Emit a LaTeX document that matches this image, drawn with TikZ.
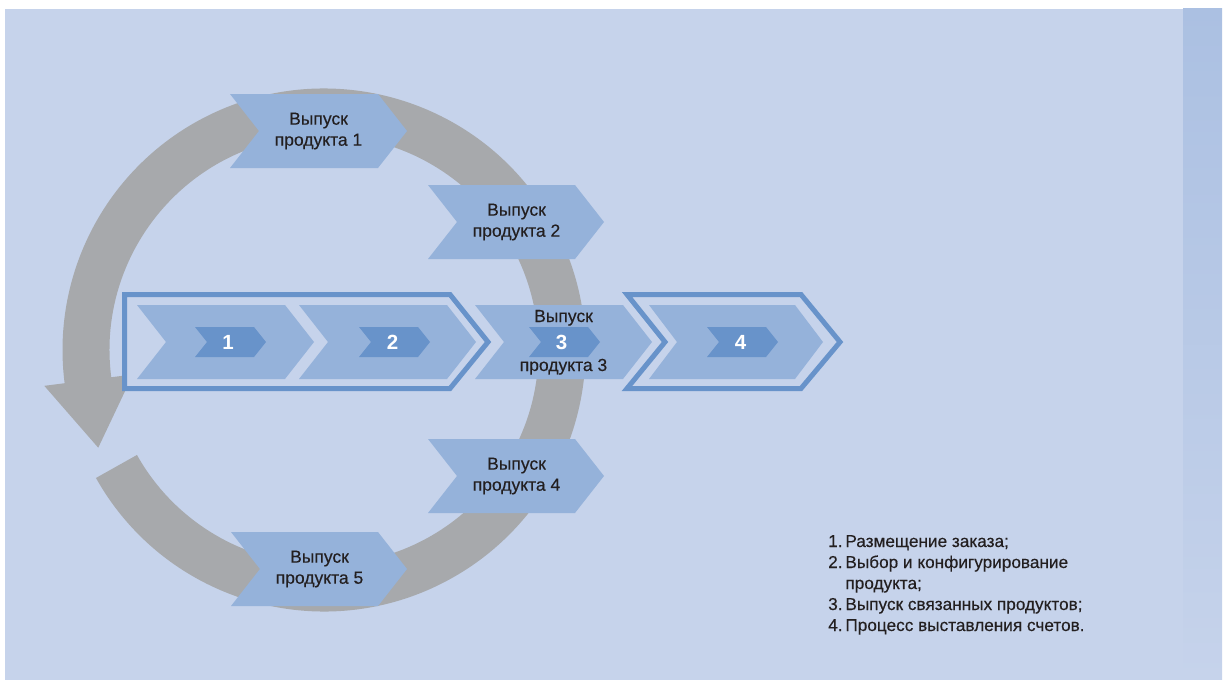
\documentclass[tikz,border=0pt]{standalone}
\usepackage{fontspec}
\setmainfont{Liberation Sans}
\newfontfamily\medsans[FakeBold=0.35]{Liberation Sans}
\usetikzlibrary{positioning}
\definecolor{bgblue}{HTML}{C6D3EB}
\definecolor{stripblue}{HTML}{ABC0E2}
\definecolor{prodblue}{HTML}{95B2DA}
\definecolor{tagblue}{HTML}{6893CA}
\definecolor{ringgray}{HTML}{A7A9AC}
\definecolor{textdark}{HTML}{231F20}
% chevron: left x, top y, body width, height, point depth, style
\newcommand{\chev}[6]{\fill[#6] (#1,#2) -- ++(#3,0) -- ++(#5,#4/2) -- ++(-#5,#4/2) -- ++(-#3,0) -- ++(#5,-#4/2) -- cycle;}

\begin{document}
\begin{tikzpicture}[x=1pt,y=-1pt]
\tikzstyle{prod}=[fill=prodblue]
\tikzstyle{tagfill}=[fill=tagblue]
\tikzstyle{stagebox}=[draw=tagblue, line width=5pt, fill=bgblue]
\tikzstyle{prodtext}=[align=center, text=textdark, font=\medsans\fontsize{17.5}{21}\selectfont, inner sep=0pt]
\tikzstyle{num}=[text=white, font=\fontsize{20.5}{24}\selectfont\bfseries, inner sep=0pt]
\tikzstyle{legtext}=[anchor=base west, text=textdark, font=\medsans\fontsize{17.2}{21}\selectfont, inner sep=0pt]

	\useasboundingbox (0,0) rectangle (1227,680);
	\fill[bgblue] (5,9) rectangle (1183,680);
	\shade[top color=stripblue, bottom color=bgblue] (1183,8) rectangle (1222,680);

	% release cycle
	\begin{scope}[shift={(324,350)}]
	\fill[ringgray] (150.7:261.5) arc[start angle=150.7, end angle=-187.3, radius=261.5]
		-- (172.7:282) -- (156.6:246) -- (172.7:192.6) -- (172.7:214.5)
		arc[start angle=-187.3, end angle=150.7, radius=214.5] -- cycle;
	\end{scope}

	% stage frames
	\draw[stagebox] (124.5,294.5) -- (450,294.5) -- (488,342) -- (450,388.5) -- (124.5,388.5) -- cycle;
	\draw[stagebox] (627,294.5) -- (801,294.5) -- (840,342) -- (801,388.5) -- (627,388.5) -- (665,342) -- cycle;

	% stages
	\chev{137}{305}{148}{74}{29}{prod}
	\chev{299}{305}{148}{74}{29}{prod}
	\chev{475}{305}{148}{74}{29}{prod}
	\chev{649}{305}{146}{74}{28}{prod}

	% releases
	\chev{230}{94}{148}{74}{29}{prod}
	\chev{428}{185}{147}{74}{29}{prod}
	\chev{428}{439}{147}{74}{29}{prod}
	\chev{231}{532}{147}{74}{29}{prod}

	% tags
	\chev{195}{327}{59}{30}{12}{tagfill}
	\chev{359}{327}{59}{30}{12}{tagfill}
	\chev{529}{327}{59}{30}{12}{tagfill}
	\chev{707}{327}{59}{30}{12}{tagfill}

	\node[num] (n1) at (228,342) {1};
	\node[num] (n2) at (392.5,342) {2};
	\node[num] (n3) at (561.5,342) {3};
	\node[num] (n4) at (740.5,342) {4};

	\node[prodtext] (rel1) at (318.5,131) {Выпуск\\продукта 1};
	\node[prodtext] (rel2) at (516.5,222) {Выпуск\\продукта 2};
	\node[prodtext, anchor=base] (rel3a) at (563.5,322) {Выпуск};
	\node[prodtext, anchor=base] (rel3b) at (563.5,371) {продукта 3};
	\node[prodtext] (rel4) at (516.5,476) {Выпуск\\продукта 4};
	\node[prodtext] (rel5) at (319.5,569) {Выпуск\\продукта 5};

	% legend
	\node[legtext] (leg1) at (828,547) {1.\,Размещение заказа;};
	\node[legtext] (leg2) at (828,568) {2.\,Выбор и конфигурирование};
	\node[legtext] (leg2b) at (828,589) {\hphantom{2.\,}продукта;};
	\node[legtext] (leg3) at (828,610) {3.\,Выпуск связанных продуктов;};
	\node[legtext] (leg4) at (828,631) {4.\,Процесс выставления счетов.};

\end{tikzpicture}
\end{document}
